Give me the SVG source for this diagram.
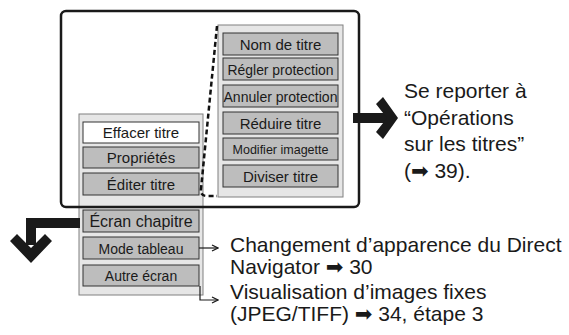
<svg xmlns="http://www.w3.org/2000/svg" width="569" height="335" viewBox="0 0 569 335">
<defs>
<style>
text{font-family:"Liberation Sans","DejaVu Sans",Arial,sans-serif;fill:#1a1a1a}
.panel{fill:#e6e6e6;stroke:#808080;stroke-width:1}
.item{fill:#bdbdbd;stroke:#333;stroke-width:1}
.sel{fill:#ffffff;stroke:#333;stroke-width:1}
.it{font-size:15px;text-anchor:middle}
.big{font-size:21px}
.thin{fill:none;stroke:#1a1a1a;stroke-width:1.2}
</style>
<marker id="ah" viewBox="0 0 8 8" refX="7" refY="4" markerWidth="8" markerHeight="8" markerUnits="userSpaceOnUse" orient="auto">
<path d="M1,1 L7,4 L1,7" fill="none" stroke="#1a1a1a" stroke-width="1.3"/>
</marker>
</defs>
<rect width="569" height="335" fill="#ffffff"/>

<g id="left-panel">
<rect class="panel" x="79" y="114" width="124" height="181"/>
</g>
<g id="right-panel">
<rect class="panel" x="218" y="25" width="125" height="172"/>
</g>

<g id="effacer-titre"><rect class="sel" x="83" y="122" width="116" height="21"/><text class="it" x="141" y="138">Effacer titre</text></g>
<g id="proprietes"><rect class="item" x="83" y="147" width="116" height="21"/><text class="it" x="141" y="163">Propriétés</text></g>
<g id="editer-titre"><rect class="item" x="83" y="173" width="116" height="22"/><text class="it" x="141" y="190">Éditer titre</text></g>
<g id="ecran-chapitre"><rect class="item" x="83" y="210" width="116" height="22"/><text class="it" x="141" y="227" style="font-size:16px">Écran chapitre</text></g>
<g id="mode-tableau"><rect class="item" x="83" y="237" width="116" height="22"/><text class="it" x="141" y="254" style="font-size:14px">Mode tableau</text></g>
<g id="autre-ecran"><rect class="item" x="83" y="265" width="116" height="21"/><text class="it" x="141" y="281" style="font-size:14px">Autre écran</text></g>

<g id="nom-de-titre"><rect class="item" x="223" y="33" width="115" height="22"/><text class="it" x="280.5" y="50">Nom de titre</text></g>
<g id="regler-protection"><rect class="item" x="223" y="58" width="115" height="22"/><text class="it" x="280.5" y="75" textLength="106" lengthAdjust="spacingAndGlyphs">Régler protection</text></g>
<g id="annuler-protection"><rect class="item" x="223" y="85" width="115" height="22"/><text class="it" x="280.5" y="102" textLength="114" lengthAdjust="spacingAndGlyphs">Annuler protection</text></g>
<g id="reduire-titre"><rect class="item" x="223" y="112" width="115" height="22"/><text class="it" x="280.5" y="129">Réduire titre</text></g>
<g id="modifier-imagette"><rect class="item" x="223" y="138" width="115" height="22"/><text class="it" x="280.5" y="154" style="font-size:13px" textLength="96" lengthAdjust="spacingAndGlyphs">Modifier imagette</text></g>
<g id="diviser-titre"><rect class="item" x="223" y="165" width="115" height="22"/><text class="it" x="280.5" y="182">Diviser titre</text></g>

<g id="frame">
<rect x="61" y="11" width="298" height="196" rx="5" fill="none" stroke="#1a1a1a" stroke-width="2.5"/>
</g>

<g id="connectors">
<path d="M217,26 L201,189 Q200,196 207,196 L217,196" fill="none" stroke="#111" stroke-width="2.5" stroke-dasharray="5 3"/>
<rect x="353" y="113" width="36" height="10" fill="#1a1a1a"/>
<polygon points="376,104 383,97 398,118 383,139 376,132 387,118" fill="#1a1a1a"/>
<path d="M80,218 L26,218 L26,245 L36,245 L36,228 L80,228 Z" fill="#1a1a1a"/>
<polygon points="17,234 31,248 45,234 52,241 31,263 10,241" fill="#1a1a1a"/>
<path class="thin" d="M199,248 L218,248" marker-end="url(#ah)"/>
<path class="thin" d="M200,286 L200,300 L218,300" marker-end="url(#ah)"/>
</g>

<g id="note-right">
<text class="big" x="404" y="98">Se reporter à</text>
<text class="big" x="404" y="124.5">“Opérations</text>
<text class="big" x="404" y="151">sur les titres”</text>
<text class="big" x="404" y="177.5">(➡ 39).</text>
</g>
<g id="note-bottom">
<text class="big" x="230" y="252">Changement d’apparence du Direct</text>
<text class="big" x="230" y="274">Navigator ➡ 30</text>
<text class="big" x="230" y="299">Visualisation d’images fixes</text>
<text class="big" x="230" y="321">(JPEG/TIFF) ➡ 34, étape 3</text>
</g>
</svg>
